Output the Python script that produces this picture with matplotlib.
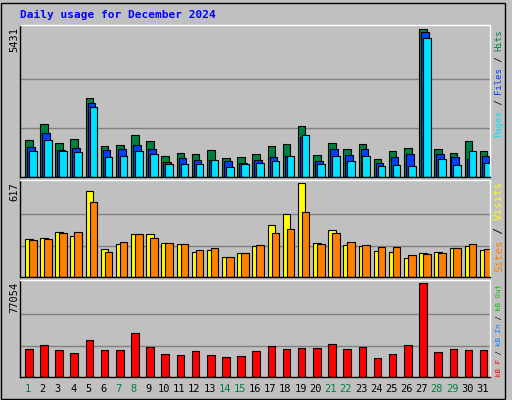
import matplotlib
matplotlib.use("Agg")
import matplotlib.pyplot as plt
from matplotlib.patches import Rectangle

days = list(range(1, 32))
hits = [1376,1966,1266,1413,2924,1155,1192,1560,1339,786,897,860,1008,713,750,860,1155,1229,1892,823,1266,1044,1229,676,971,1081,5431,1044,897,1339,971]
files = [1118,1634,1008,1081,2740,1008,1044,1192,1044,565,713,639,639,602,528,639,750,786,1487,602,1044,823,1044,528,750,860,5320,860,750,676,786]
pages = [971,1376,971,934,2593,750,786,971,860,491,491,491,639,381,491,528,602,786,1560,491,786,602,786,418,455,418,5100,676,455,971,528]
visits = [248,255,295,268,563,181,215,282,282,221,215,161,174,134,154,201,342,416,617,221,308,208,201,168,161,127,154,161,188,201,174]
sites = [241,248,288,295,490,161,228,282,255,221,215,174,188,134,154,208,288,315,429,215,288,228,208,194,194,141,148,154,188,215,181]
kbytes = [23060,26435,22216,19685,30653,22216,22216,35715,24747,18842,17998,21373,17998,16311,17154,21373,25591,23060,23904,23904,27278,23060,24747,15467,18842,26435,77054,20529,23060,22216,22216]
weekend = {1,7,8,14,15,21,22,28,29}

W, H = 512, 400
fig = plt.figure(figsize=(W/100, H/100), dpi=100, facecolor='#c0c0c0')
mono = 'DejaVu Sans Mono'

def ax_at(x0, y0, x1, y1):
    return fig.add_axes([x0/W, 1-y1/H, (x1-x0)/W, (y1-y0)/H])

def panel(y0, y1, series, ymax):
    ax = ax_at(20, y0, 490, y1)
    ax.set_facecolor('#c0c0c0')
    ax.set_xlim(0.5, 31.5)
    ax.set_ylim(0, ymax*1.03)
    for f in (1/3, 2/3):
        ax.axhline(ymax*f, color='#808080', lw=1, zorder=0)
    for vals, off, col in series:
        for d, v in zip(days, vals):
            ax.bar(d+off, v, width=0.5, align='edge', color=col, edgecolor='black', lw=0.8, zorder=2)
    ax.set_xticks([]); ax.set_yticks([])
    for s in ax.spines.values():
        s.set_color('white'); s.set_linewidth(1)
    ax.spines['bottom'].set_color('black'); ax.spines['left'].set_color('black')
    return ax

panel(25, 177, [(hits, -0.17, '#008040'), (files, -0.04, '#0040ff'), (pages, 0.09, '#00e0ff')], max(hits))
panel(180, 277, [(visits, -0.17, '#ffff00'), (sites, 0.09, '#ff8000')], max(visits))
panel(280, 377, [(kbytes, -0.17, '#ff0000')], max(kbytes))

for d in days:
    x = 20 + (d-0.5)*470/31
    fig.text(x/W, 1-389/H, str(d), ha='center', va='center', fontsize=7.5, family=mono,
             color='#008040' if d in weekend else 'black')

fig.text(20/W, 1-15/H, 'Daily usage for December 2024', fontsize=8, family=mono,
         weight='bold', color='#0000ff', va='center')
for txt, y in [(str(max(hits)), 27), (str(max(visits)), 182), (str(max(kbytes)), 282)]:
    fig.text(14/W, 1-y/H, txt, rotation=90, ha='center', va='top', fontsize=7.5, family=mono)

def side(parts, ybottom, ytop):
    n = sum(len(t) for t, _ in parts)
    step = (ybottom - ytop) / n
    fs = step / (0.602 * 100 / 72)
    y = ybottom
    for txt, col in parts:
        fig.text(499/W, 1-y/H, txt, rotation=90, ha='center', va='bottom', fontsize=fs,
                 family=mono, color=col)
        y -= len(txt)*step
side([('Pages', '#00e0ff'), (' / ', '#000000'), ('Files', '#0040ff'), (' / ', '#000000'), ('Hits', '#008040')], 137, 29)
side([('Sites', '#ff8000'), (' / ', '#000000'), ('Visits', '#ffff00')], 272, 181)
side([('kB F', '#ff0000'), (' / ', '#000000'), ('kB In', '#0080ff'), (' / ', '#000000'), ('kB Out', '#00c000')], 377, 284)

fr = fig.add_axes([0, 0, 1, 1], facecolor='none'); fr.set_axis_off()
fr.add_patch(Rectangle((0.002, 0.002), 0.985, 0.99, fill=False, ec='black', lw=1))

fig.savefig('out.png', dpi=100, facecolor='#c0c0c0')
